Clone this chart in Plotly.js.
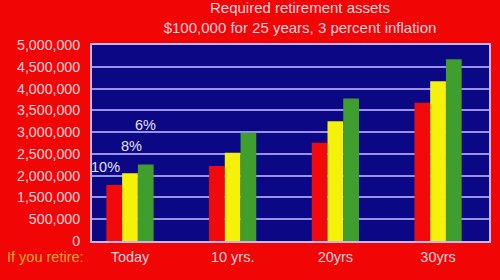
<!DOCTYPE html>
<html>
<head>
<meta charset="utf-8">
<script src="https://cdn.plot.ly/plotly-3.0.1.min.js"></script>
<style>
  html, body { margin: 0; padding: 0; background: #f20505; }
  #chart { width: 500px; height: 280px; }
</style>
</head>
<body>
<div id="chart"></div>
<script>
// Retirement horizons and the return assumption for each series
const categories = ['Today', '10 yrs.', '20yrs', '30yrs'];
const seriesNames = ['10%', '8%', '6%'];

// Required assets, in units of the value axis
const assets10 = [1284000, 1720000, 2255000, 3172000];
const assets8  = [1553000, 2025000, 2752000, 3670000];
const assets6  = [1759000, 2484000, 3273000, 4174000];

// Value-axis ticks and the labels printed beside them
const yTickVals = [0, 500000, 1000000, 1500000, 2000000, 2500000, 3000000, 3500000, 4000000, 4500000];
const yTickText = ['0', '500,000', '1,500,000', '2,000,000', '2,500,000', '3,000,000',
                   '3,500,000', '4,000,000', '4,500,000', '5,000,000'];

const FONT = 'Liberation Sans, Arial, Helvetica, sans-serif';
const TEXT_PINK = '#f7d2dc';
const seriesColors = ['#f20a0a', '#f5f20a', '#3f9e2e'];
const seriesValues = [assets10, assets8, assets6];

const traces = seriesNames.map((name, i) => ({
  type: 'bar',
  name: name,
  x: categories,
  y: seriesValues[i],
  marker: { color: seriesColors[i], line: { width: 0 } },
  hoverinfo: 'skip'
}));

// Series names written above the first group of bars
const labelShift = [{ dx: -9, dy: 18 }, { dx: 1, dy: 27 }, { dx: 0, dy: 39 }];
const seriesLabels = seriesNames.map((name, i) => ({
  x: categories[0],
  y: seriesValues[i][0],
  xref: 'x', yref: 'y',
  text: name,
  showarrow: false,
  xanchor: 'center', yanchor: 'middle',
  xshift: (i - 1) * 15.8 + labelShift[i].dx,
  yshift: labelShift[i].dy,
  font: { family: FONT, size: 14.5, color: '#e6e2f4' }
}));

const layout = {
  width: 500,
  height: 280,
  margin: { l: 92, r: 11, t: 45, b: 39 },
  paper_bgcolor: '#f20505',
  plot_bgcolor: '#0b0785',
  showlegend: false,
  barmode: 'group',
  bargap: 0.54,
  bargroupgap: 0,
  title: {
    text: 'Required retirement assets<br>$100,000 for 25 years, 3 percent inflation',
    font: { family: FONT, size: 15, color: TEXT_PINK },
    xref: 'container', x: 0.6, xanchor: 'center',
    yref: 'container', y: 0.952, yanchor: 'top'
  },
  xaxis: {
    type: 'category',
    range: [-0.37, 3.496],
    showgrid: false,
    zeroline: false,
    showline: true, mirror: true, linecolor: '#c9b6ea', linewidth: 2,
    ticks: '',
    ticklabelstandoff: 2,
    tickfont: { family: FONT, size: 14.5, color: TEXT_PINK },
    fixedrange: true
  },
  yaxis: {
    range: [0, 4500000],
    tickmode: 'array',
    tickvals: yTickVals,
    ticktext: yTickText,
    showgrid: true, gridcolor: '#9a92e6', gridwidth: 2,
    zeroline: false,
    showline: true, mirror: true, linecolor: '#c9b6ea', linewidth: 2,
    ticks: '',
    ticklabelstandoff: 7,
    tickfont: { family: FONT, size: 14.2, color: TEXT_PINK },
    fixedrange: true
  },
  annotations: seriesLabels.concat([{
    text: 'If you retire:',
    xref: 'paper', yref: 'paper',
    x: -0.219, y: -0.082,
    xanchor: 'left', yanchor: 'middle',
    showarrow: false,
    font: { family: FONT, size: 14.5, color: '#f5a623' }
  }])
};

Plotly.newPlot('chart', traces, layout, { staticPlot: true, displayModeBar: false });
</script>
</body>
</html>
